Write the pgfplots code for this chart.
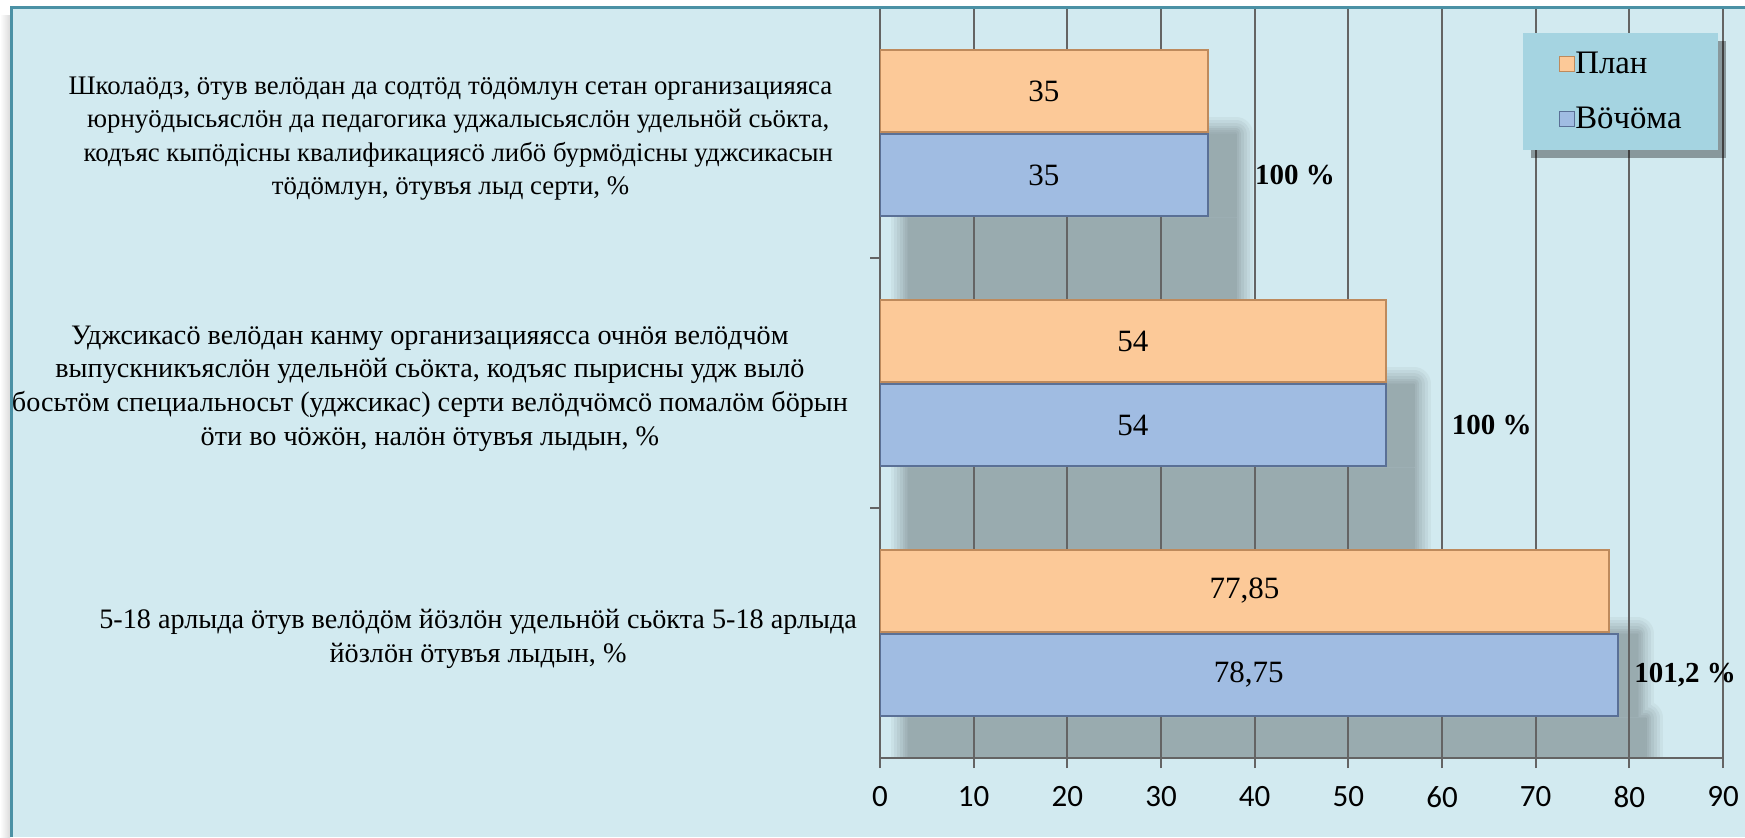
\documentclass[border=0pt]{standalone}
\usepackage{fontspec}
\setmainfont{Liberation Serif}
\newfontfamily\tickfont{Carlito}
\usepackage{xcolor}
\usepackage{pgfplots}
\usepackage{pgfplotstable}
\pgfplotsset{compat=1.18}
\usetikzlibrary{shadows}

\definecolor{bgc}{RGB}{210,234,240}
\definecolor{borderc}{RGB}{75,145,165}
\definecolor{orangec}{RGB}{252,201,152}
\definecolor{orangeedge}{RGB}{190,138,92}
\definecolor{bluec}{RGB}{160,188,226}
\definecolor{blueedge}{RGB}{90,112,150}
\definecolor{legendc}{RGB}{165,212,225}
\definecolor{gridc}{RGB}{100,100,100}
\colorlet{sh1}{bgc!96!black}
\colorlet{sh2}{bgc!92!black}
\colorlet{sh3}{bgc!88!black}
\colorlet{sh4}{bgc!84!black}
\colorlet{sh5}{bgc!80!black}
\colorlet{sh6}{bgc!77!black}
\colorlet{sh7}{bgc!75!black}
\colorlet{sh8}{bgc!73!black}

\pagecolor{bgc}

\makeatletter
\tikzset{nopre/.code={\let\tikz@preactions\pgfutil@empty}}
\makeatother
\newcommand\sm{\fontsize{13.4}{16.8}\selectfont}

\pgfplotstableread{
y plan fact planlab factlab
0 77.85 78.75 77,85 78,75
1 54 54 54 54
2 35 35 35 35
}\datatable

\pgfplotsset{shadowlayer/.style 2 args={forget plot, xbar, bar width=41pt, draw=none, fill=none,
  on layer=axis background,
  preaction={draw=#1, fill=#1, line width=#2, line join=round, transform canvas={shift={(14pt,-42pt)}}}}}

\begin{document}
\begin{tikzpicture}
\begin{axis}[
  set layers,
  clip mode=individual,
  at={(440pt,39.5pt)}, anchor=south west,
  scale only axis, width=421.5pt, height=375pt,
  xmin=0, xmax=90, ymin=-0.5, ymax=2.5,
  xtick={0,10,...,90},
  xmajorgrids, grid style={draw=gridc, line width=0.9pt},
  axis lines*=left,
  axis line style={draw=gridc, line width=0.9pt},
  tick align=outside,
  major tick length=5pt,
  tick style={draw=gridc, line width=0.9pt},
  xticklabel style={font=\tickfont\fontsize{15.5}{18}\selectfont, yshift=-5.5pt},
  /pgf/number format/assume math mode=true,
  ytick={0.5,1.5},
  yticklabels={{},{}},
  yticklabel style={align=center, font=\fontsize{14.1}{16.8}\selectfont, xshift=-12.5pt, yshift=-2.8pt},
  extra y ticks={0,1,2},
  extra y tick labels={
    {5-18 арлыда öтув велöдöм йöзлöн удельнöй сьöкта 5-18 арлыда\hspace*{-4.5pt}\\йöзлöн öтувъя лыдын, \%\hspace*{-4.5pt}},
    {Уджсикасö велöдан канму организацияясса очнöя велöдчöм\\выпускникъяслöн удельнöй сьöкта, кодъяс пырисны удж вылö\\босьтöм специальносьт (уджсикас) серти велöдчöмсö помалöм бöрын\\öти во чöжöн, налöн öтувъя лыдын, \%},
    {\sm Школаöдз, öтув велöдан да содтöд тöдöмлун сетан организацияяса\hspace*{7.8pt}\\\sm юрнуöдысьяслöн да педагогика уджалысьяслöн удельнöй сьöкта,\hspace*{7.8pt}\\\sm кодъяс кыпöдісны квалификациясö либö бурмöдісны уджсикасын\hspace*{7.8pt}\\\sm тöдöмлун, öтувъя лыд серти, \%\hspace*{7.8pt}}},
  extra y tick style={major tick length=0pt, tick style={draw=none}},
  legend style={at={(0.995,0.967)}, anchor=north east, fill=legendc, draw=none,
    font=\fontsize{16.4}{19}\selectfont, inner xsep=18pt, inner ysep=8.8pt,
    row sep=14.7pt, nodes={inner sep=0.4pt},
    drop shadow={shadow xshift=4pt, shadow yshift=-4pt, fill=black, opacity=0.35}},
  legend cell align=left,
  legend image code/.code={\draw[nopre, #1, line width=0.4pt] (0pt,-3.75pt) rectangle (7.5pt,3.75pt);},
]
% soft shadows (opaque layers, widest first)
\addplot[shadowlayer={sh1}{17pt}, bar shift=21pt] table[x=plan, y=y] {\datatable};
\addplot[shadowlayer={sh1}{17pt}, bar shift=-21pt] table[x=fact, y=y] {\datatable};
\addplot[shadowlayer={sh2}{14pt}, bar shift=21pt] table[x=plan, y=y] {\datatable};
\addplot[shadowlayer={sh2}{14pt}, bar shift=-21pt] table[x=fact, y=y] {\datatable};
\addplot[shadowlayer={sh3}{11pt}, bar shift=21pt] table[x=plan, y=y] {\datatable};
\addplot[shadowlayer={sh3}{11pt}, bar shift=-21pt] table[x=fact, y=y] {\datatable};
\addplot[shadowlayer={sh4}{8pt}, bar shift=21pt] table[x=plan, y=y] {\datatable};
\addplot[shadowlayer={sh4}{8pt}, bar shift=-21pt] table[x=fact, y=y] {\datatable};
\addplot[shadowlayer={sh5}{5.5pt}, bar shift=21pt] table[x=plan, y=y] {\datatable};
\addplot[shadowlayer={sh5}{5.5pt}, bar shift=-21pt] table[x=fact, y=y] {\datatable};
\addplot[shadowlayer={sh6}{3.5pt}, bar shift=21pt] table[x=plan, y=y] {\datatable};
\addplot[shadowlayer={sh6}{3.5pt}, bar shift=-21pt] table[x=fact, y=y] {\datatable};
\addplot[shadowlayer={sh7}{1.5pt}, bar shift=21pt] table[x=plan, y=y] {\datatable};
\addplot[shadowlayer={sh7}{1.5pt}, bar shift=-21pt] table[x=fact, y=y] {\datatable};
\addplot[shadowlayer={sh8}{0.1pt}, bar shift=21pt] table[x=plan, y=y] {\datatable};
\addplot[shadowlayer={sh8}{0.1pt}, bar shift=-21pt] table[x=fact, y=y] {\datatable};

\addplot[xbar, bar width=41pt, bar shift=21pt, fill=orangec, draw=orangeedge, line width=1pt,
  nodes near coords, point meta=explicit symbolic,
  visualization depends on={x \as \rawx},
  every node near coord/.append style={anchor=center, text=black, font=\fontsize{15.5}{18}\selectfont, xshift={-2.341667pt*\rawx}, yshift=21pt}]
  table[x=plan, y=y, meta=planlab] {\datatable};
\addlegendentry{План}
\addplot[xbar, bar width=41pt, bar shift=-21pt, fill=bluec, draw=blueedge, line width=1pt,
  nodes near coords, point meta=explicit symbolic,
  visualization depends on={x \as \rawx},
  every node near coord/.append style={anchor=center, text=black, font=\fontsize{15.5}{18}\selectfont, xshift={-2.341667pt*\rawx}, yshift=-21pt}]
  table[x=fact, y=y, meta=factlab] {\datatable};
\addlegendentry{Вöчöма}

\node[anchor=west, inner sep=0pt, yshift=-21pt, font=\bfseries\fontsize{14.5}{17}\selectfont] at (axis cs:40,2) {100 \%};
\node[anchor=west, inner sep=0pt, yshift=-21pt, font=\bfseries\fontsize{14.5}{17}\selectfont] at (axis cs:61,1) {100 \%};
\node[anchor=west, inner sep=0pt, yshift=-21pt, font=\bfseries\fontsize{14.5}{17}\selectfont] at (axis cs:80.5,0) {101,2 \%};
\end{axis}
\fill[white] (0,414.5pt) rectangle (872.5pt,418.5pt);
\shade[left color=white, right color=black!14] (0,0) rectangle (5pt,411pt);
\fill[white] (0,411pt) rectangle (5.5pt,418.5pt);
\draw[borderc, line width=1.5pt] (5.5pt,0pt) -- (5.5pt,414.5pt) -- (872.5pt,414.5pt);
\pgfresetboundingbox
\path[use as bounding box] (0,0) rectangle (872.5pt,418.5pt);
\end{tikzpicture}
\end{document}
